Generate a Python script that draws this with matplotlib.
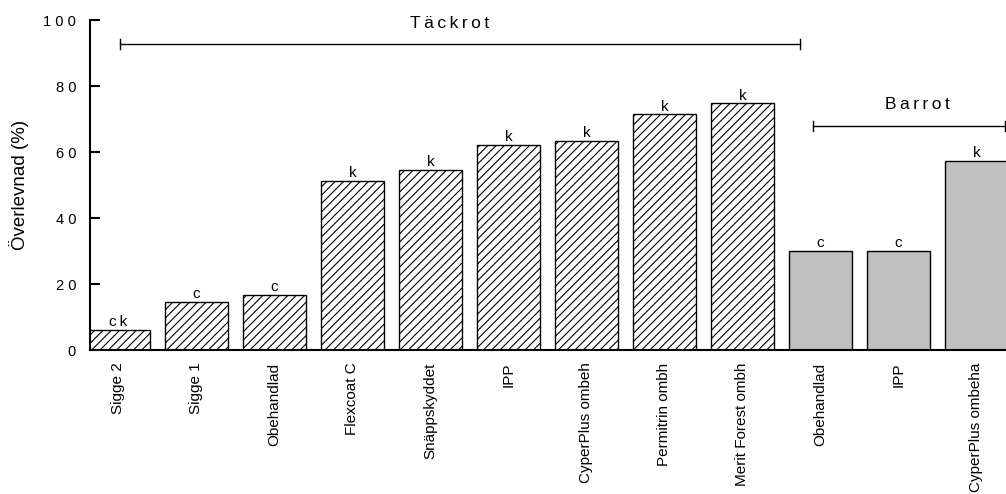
import numpy as np
import matplotlib.pyplot as plt

plt.rcParams['font.family'] = ['Liberation Sans', 'DejaVu Sans']
plt.rcParams['hatch.linewidth'] = 0.8

categories = ["Sigge 2", "Sigge 1", "Obehandlad", "Flexcoat C", "Snäppskyddet", "IPP",
              "CyperPlus ombeh", "Permitrin ombh", "Merit Forest ombh",
              "Obehandlad", "IPP", "CyperPlus ombeha"]
values = [6.1, 14.6, 16.7, 51.2, 54.5, 62.1, 63.3, 71.4, 74.8, 30.0, 30.0, 57.4]
letters = ["ck", "c", "c", "k", "k", "k", "k", "k", "k", "c", "c", "k"]
group = ["täck"] * 9 + ["bar"] * 3

x = np.arange(len(categories))
ts = "\u2009"  # thin space for letter spacing

fig = plt.figure(figsize=(10.06, 4.94), dpi=100)
ax = fig.add_axes([90 / 1006, 144 / 494, 916 / 1006, 330 / 494])

for i in x:
    if group[i] == "täck":
        ax.bar(x[i], values[i], width=0.81, facecolor="white", edgecolor="black",
               hatch="////", linewidth=1.0, zorder=2)
    else:
        ax.bar(x[i], values[i], width=0.81, facecolor="#c0c0c0", edgecolor="black",
               linewidth=1.0, zorder=2)
    ax.text(x[i], values[i] + 0.2, ts.join(letters[i]), ha="center", va="bottom", fontsize=11)

# group brackets
ax.plot([0.02, 8.74], [92.7, 92.7], color="black", lw=1.0, clip_on=False)
ax.plot([0.02, 0.02], [91.2, 94.2], color="black", lw=1.0, clip_on=False)
ax.plot([8.74, 8.74], [91.2, 94.2], color="black", lw=1.0, clip_on=False)
ax.text(4.24, 98.8, ts.join("Täckrot"), ha="center", va="center", fontsize=12.5, clip_on=False)

ax.plot([8.9, 11.37], [68, 68], color="black", lw=1.0, clip_on=False)
ax.plot([8.9, 8.9], [66.5, 69.5], color="black", lw=1.0, clip_on=False)
ax.plot([11.37, 11.37], [66.5, 69.5], color="black", lw=1.0, clip_on=False)
ax.text(10.24, 74.3, ts.join("Barrot"), ha="center", va="center", fontsize=12.5)

ax.set_xlim(-0.365, 11.38)
ax.set_ylim(0, 100)
ax.set_yticks([0, 20, 40, 60, 80, 100])
ax.set_yticklabels(["0", "2 0", "4 0", "6 0", "8 0", "1 0 0"], fontsize=10.5)
ax.tick_params(axis="y", direction="in", length=7.5, width=1.5, pad=10)
ax.set_xticks(x)
ax.set_xticklabels(categories, rotation=90, fontsize=11)
ax.tick_params(axis="x", direction="in", length=2, width=0.5, color="#888888", pad=9)
ax.set_ylabel("Överlevnad (%)", fontsize=13.5, labelpad=10)

ax.spines["top"].set_visible(False)
ax.spines["right"].set_visible(False)
ax.spines["left"].set_linewidth(1.5)
ax.spines["bottom"].set_linewidth(1.5)

fig.savefig("out.png", dpi=100)
